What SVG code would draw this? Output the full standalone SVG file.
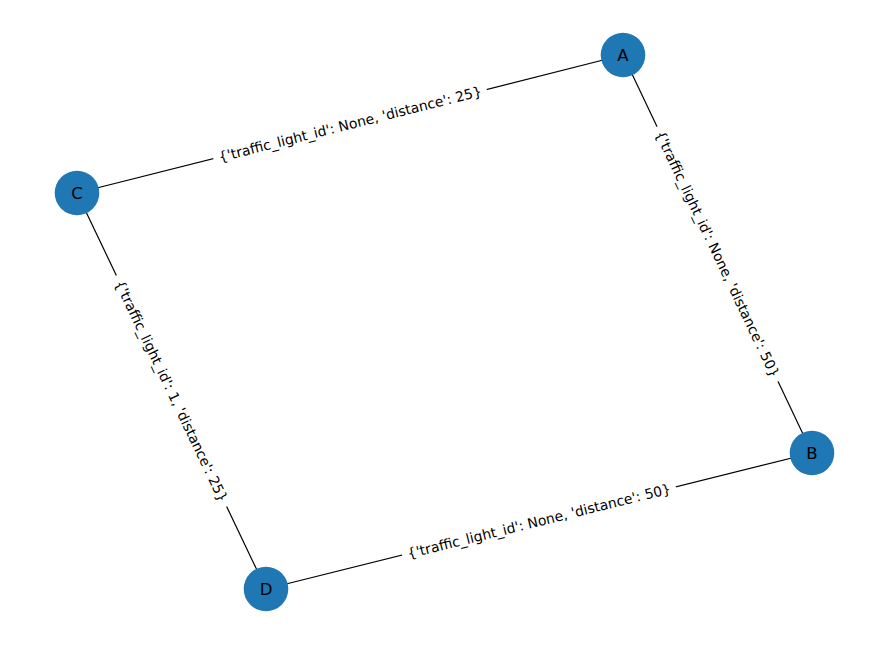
<svg xmlns="http://www.w3.org/2000/svg" width="889" height="645" viewBox="0 0 889 645">
<style>
.edge{stroke:#000;stroke-width:1.2;fill:none}
.node{fill:#1f77b4}
.nl{font-family:"DejaVu Sans",sans-serif;font-size:16.5px;fill:#000;text-anchor:middle;dominant-baseline:central}
.el{font-family:"DejaVu Sans",sans-serif;font-size:13.9px;fill:#000;text-anchor:middle;dominant-baseline:central}
.bg{fill:#fff}
</style>
<rect width="889" height="645" fill="#fff"/>
<g id="connectors">
<line class="edge" x1="623" y1="55" x2="77" y2="193"/>
<line class="edge" x1="623" y1="55" x2="812" y2="453"/>
<line class="edge" x1="77" y1="193" x2="266" y2="589"/>
<line class="edge" x1="266" y1="589" x2="812" y2="453"/>
<g transform="translate(350,124) rotate(-14.18)"><rect class="bg" x="-141" y="-10" width="282" height="20"/><text class="el">{'traffic_light_id': None, 'distance': 25}</text></g>
<g transform="translate(717.5,254) rotate(64.6)"><rect class="bg" x="-141" y="-10" width="282" height="20"/><text class="el">{'traffic_light_id': None, 'distance': 50}</text></g>
<g transform="translate(171.5,391) rotate(64.5)"><rect class="bg" x="-128" y="-10" width="256" height="20"/><text class="el">{'traffic_light_id': 1, 'distance': 25}</text></g>
<g transform="translate(539,521) rotate(-13.99)"><rect class="bg" x="-141" y="-10" width="282" height="20"/><text class="el">{'traffic_light_id': None, 'distance': 50}</text></g>
</g>
<g id="A"><circle class="node" cx="623" cy="55" r="22.3"/><text class="nl" x="623" y="55">A</text></g>
<g id="B"><circle class="node" cx="812" cy="453" r="22.3"/><text class="nl" x="812" y="453">B</text></g>
<g id="C"><circle class="node" cx="77" cy="193" r="22.3"/><text class="nl" x="77" y="193">C</text></g>
<g id="D"><circle class="node" cx="266" cy="589" r="22.3"/><text class="nl" x="266" y="589">D</text></g>
</svg>
